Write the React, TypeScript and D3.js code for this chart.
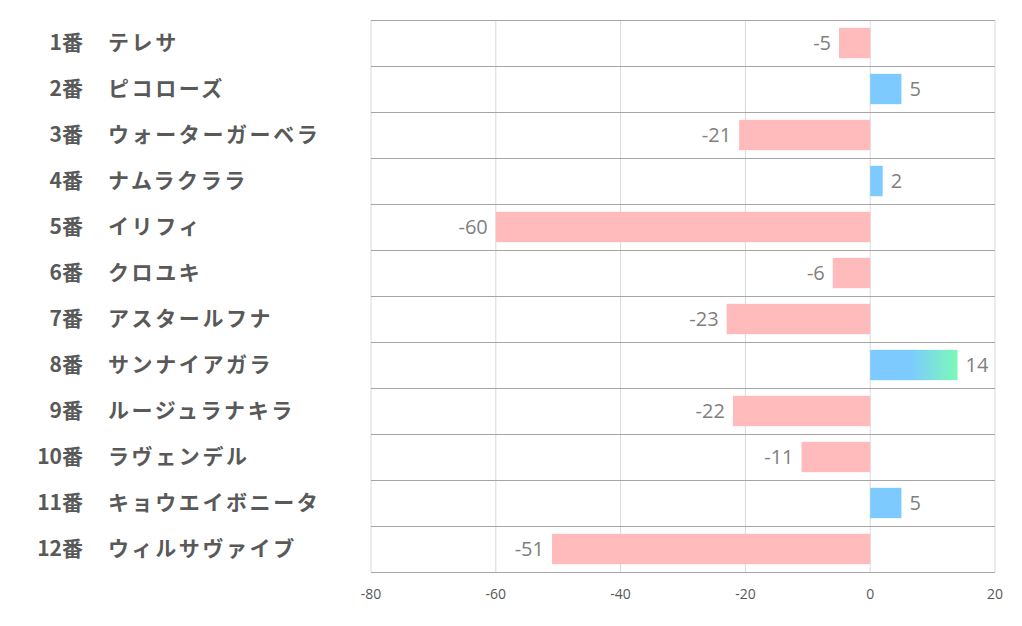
import React from 'react';
import * as d3 from 'd3';

const horseNumbers = ['1番', '2番', '3番', '4番', '5番', '6番', '7番', '8番', '9番', '10番', '11番', '12番'];
const horseNames = [
  'テレサ',
  'ピコローズ',
  'ウォーターガーベラ',
  'ナムラクララ',
  'イリフィ',
  'クロユキ',
  'アスタールフナ',
  'サンナイアガラ',
  'ルージュラナキラ',
  'ラヴェンデル',
  'キョウエイボニータ',
  'ウィルサヴァイブ',
];
const values = [-5, 5, -21, 2, -60, -6, -23, 14, -22, -11, 5, -51];
const xTicks = [-80, -60, -40, -20, 0, 20];

const W = 1022;
const H = 626;
const margin = { top: 20, right: 27, bottom: 54, left: 371 };

export default function App() {
  const x = d3.scaleLinear().domain([-80, 20]).range([margin.left, W - margin.right]);
  const y = d3
    .scaleBand<number>()
    .domain(d3.range(values.length))
    .range([margin.top, H - margin.bottom])
    .paddingInner(0)
    .paddingOuter(0);
  const bh = y.bandwidth() * 0.66;
  const maxVal = d3.max(values) as number;

  return (
    <svg
      width={W}
      height={H}
      style={{ position: 'fixed', left: 0, top: 0, background: '#fff' }}
      fontFamily="'Noto Sans CJK JP', 'Noto Sans', sans-serif"
    >
      <defs>
        <linearGradient id="grad" x1="0" x2="1" y1="0" y2="0">
          <stop offset="0" stopColor="#7ccaff" />
          <stop offset="0.45" stopColor="#7ccaff" />
          <stop offset="1" stopColor="#7cf9b8" />
        </linearGradient>
      </defs>

      {/* vertical grid */}
      {xTicks.map((t) => (
        <line key={t} x1={x(t)} x2={x(t)} y1={margin.top} y2={H - margin.bottom} stroke="#d9d9d9" />
      ))}
      {/* row separators */}
      {d3.range(values.length + 1).map((i) => {
        const yy = i < values.length ? (y(i) as number) : H - margin.bottom;
        return <line key={i} x1={x(-80)} x2={x(20)} y1={yy + 0.5} y2={yy + 0.5} stroke="#a6a6a6" />;
      })}

      {/* bars */}
      {values.map((v, i) => {
        const cy = (y(i) as number) + y.bandwidth() / 2;
        const x0 = Math.min(x(0), x(v));
        const w = Math.abs(x(v) - x(0));
        const fill = v < 0 ? '#ffbbbb' : v === maxVal ? 'url(#grad)' : '#7ccaff';
        return (
          <g key={i}>
            <rect x={x0} y={cy - bh / 2} width={w} height={bh} fill={fill} />
            <text
              x={v < 0 ? x(v) - 8 : x(v) + 8}
              y={cy}
              dy="0.35em"
              textAnchor={v < 0 ? 'end' : 'start'}
              fontSize={20}
              fill="#7f7f7f"
              fontFamily="'Open Sans', sans-serif"
            >
              {v}
            </text>
          </g>
        );
      })}

      {/* category labels */}
      {horseNumbers.map((n, i) => {
        const cy = (y(i) as number) + y.bandwidth() / 2;
        return (
          <g key={n} fontWeight="bold" fontSize={21} fill="#595959">
            <text x={83} y={cy} dy="0.35em" textAnchor="end">
              {n}
            </text>
            <text x={108} y={cy} dy="0.35em" letterSpacing={2.6}>
              {horseNames[i]}
            </text>
          </g>
        );
      })}

      {/* x tick labels */}
      {xTicks.map((t) => (
        <text
          key={t}
          x={x(t)}
          y={H - margin.bottom + 22}
          dy="0.35em"
          textAnchor="middle"
          fontSize={14}
          fill="#595959"
          fontFamily="'Open Sans', sans-serif"
        >
          {t}
        </text>
      ))}
    </svg>
  );
}
